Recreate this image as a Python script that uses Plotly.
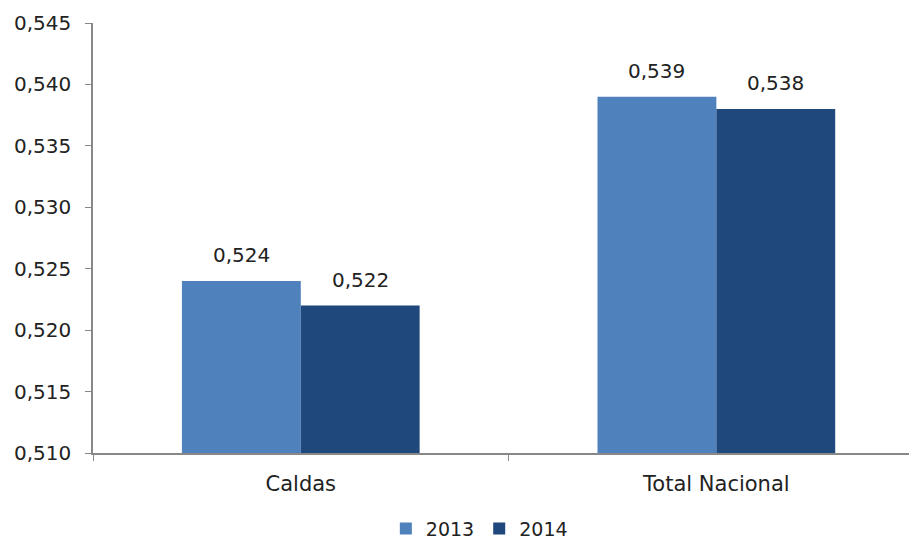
import plotly.graph_objects as go

categories = ["Caldas", "Total Nacional"]
years = ["2013", "2014"]
values_2013 = [0.524, 0.539]
values_2014 = [0.522, 0.538]
colors = ["#4F81BD", "#1F497D"]
y_ticks = [0.510, 0.515, 0.520, 0.525, 0.530, 0.535, 0.540, 0.545]

# page body has an 8px margin, so the figure is 8px smaller than the window
W, H = 909, 534
M = dict(l=85, r=2, t=15, b=89)
BARGAP = 0.428
X_RANGE = [-0.5, 1.478]

font = dict(family="DejaVu Sans, Arial, sans-serif", size=20, color="#222222")

fig = go.Figure()
for year, vals, col in zip(years, [values_2013, values_2014], colors):
    fig.add_trace(go.Bar(
        name=year, x=categories, y=vals,
        marker=dict(color=col, line=dict(width=0)),
    ))

# value labels above each bar, shifted sideways to the bar centre
plot_w = W - M["l"] - M["r"]
cat_w = plot_w / (X_RANGE[1] - X_RANGE[0])
bar_w = cat_w * (1 - BARGAP) / len(years)
for i, vals in enumerate([values_2013, values_2014]):
    shift = (i - (len(years) - 1) / 2) * bar_w
    for cat, v in zip(categories, vals):
        fig.add_annotation(
            x=cat, y=v, text=f"{v:.3f}".replace(".", ","),
            showarrow=False, xshift=shift, yshift=26, yanchor="middle",
            font=dict(size=20, color="#222222"),
        )

fig.update_layout(
    width=W, height=H,
    margin=dict(**M, autoexpand=False),
    paper_bgcolor="white", plot_bgcolor="white",
    font=font,
    separators=",.",
    barmode="group", bargap=BARGAP, bargroupgap=0,
    showlegend=True,
    legend=dict(orientation="h", x=0.47, xanchor="center", y=-0.176, yanchor="middle",
                font=dict(size=19), itemwidth=30, traceorder="normal"),
)
fig.update_xaxes(
    range=X_RANGE,
    showline=True, linecolor="#888888", linewidth=1.5,
    ticks="outside", tickson="boundaries", ticklen=6, tickcolor="#888888",
    ticklabelstandoff=11, tickfont=dict(size=21),
    showgrid=False, automargin=False,
)
fig.update_yaxes(
    range=[0.510, 0.545], tickvals=y_ticks, tickformat=".3f",
    showline=True, linecolor="#888888", linewidth=1.5,
    ticks="outside", ticklen=6, tickcolor="#888888", ticklabelstandoff=10,
    showgrid=False, zeroline=False, automargin=False,
)

fig.write_html("out.html")
